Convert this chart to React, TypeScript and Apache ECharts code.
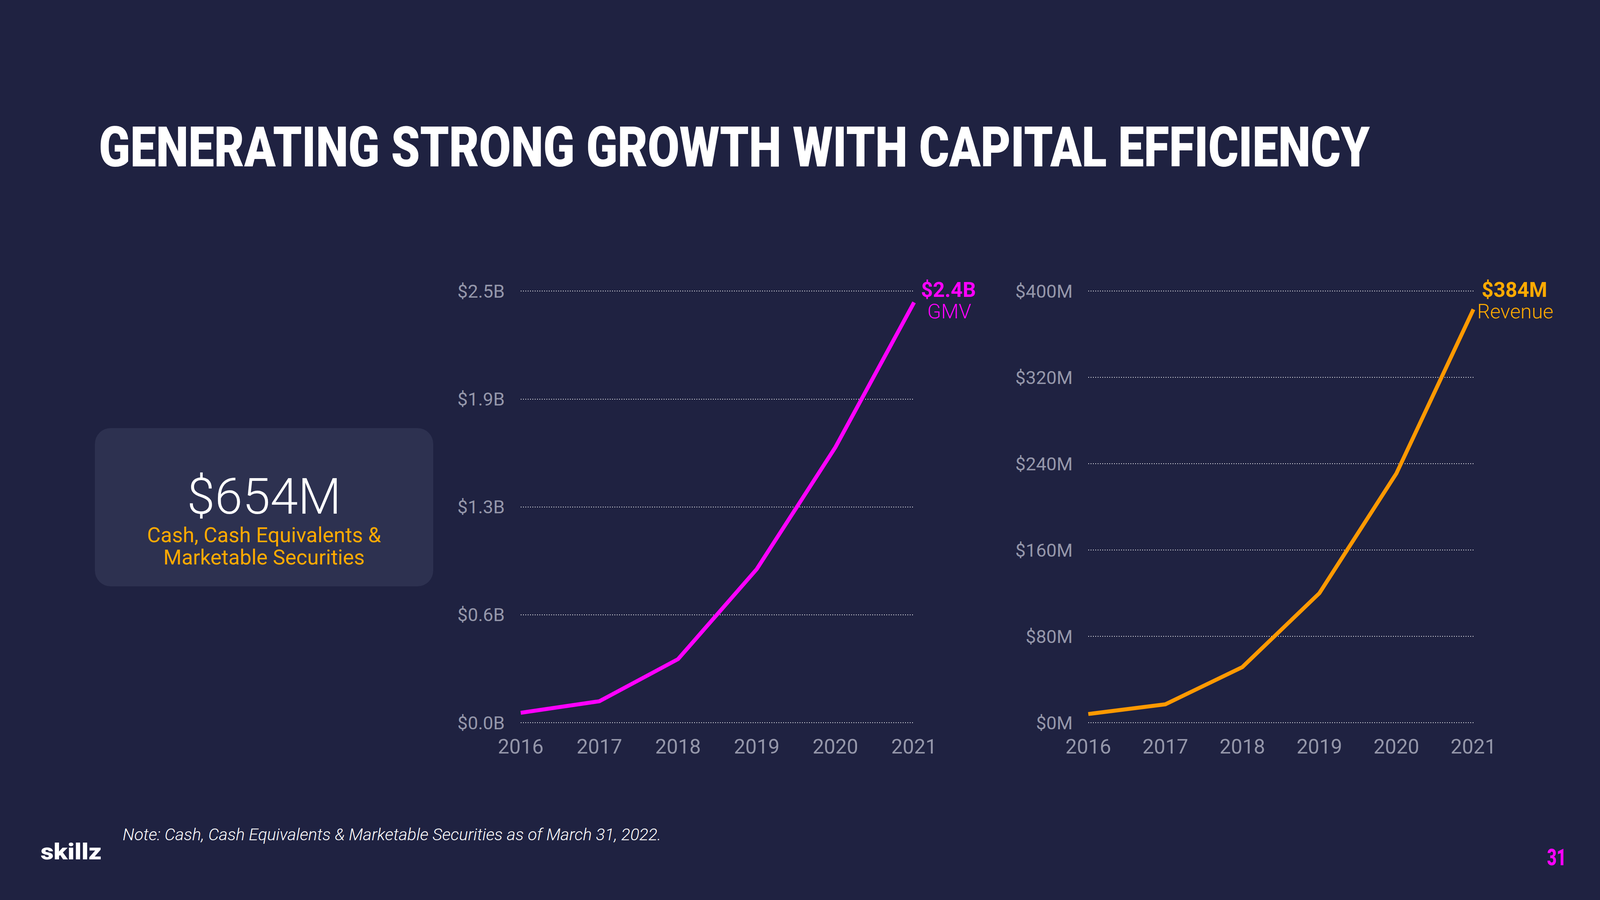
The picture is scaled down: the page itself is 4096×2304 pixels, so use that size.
import React, { useEffect, useRef } from "react";
import * as echarts from "echarts";

// ---- data ----
const years = ["2016", "2017", "2018", "2019", "2020", "2021"];
const gmvBillions = [0.057, 0.124, 0.368, 0.889, 1.595, 2.434];
const revenueMillions = [8, 17, 51.5, 120, 231, 383];
const gmvAxis = [0, 2.5, 0.625]; // min, max, interval (billions)
const revenueAxis = [0, 400, 80]; // min, max, interval (millions)

const titleText = "GENERATING STRONG GROWTH WITH CAPITAL EFFICIENCY";
const cashValue = "$654M";
const cashLines = ["Cash, Cash Equivalents &", "Marketable Securities"];
const gmvLabel = ["$2.4B", "GMV"];
const revenueLabel = ["$384M", "Revenue"];
const noteText = "Note: Cash, Cash Equivalents & Marketable Securities as of March 31, 2022.";
const logoText = "skillz";
const pageNumber = "31";

// ---- style ----
const BG = "#1f2241";
const CARD = "#2d3150";
const MAGENTA = "#ff00ff";
const ORANGE_LINE = "#ff9900";
const ORANGE_TEXT = "#ffaa00";
const AXIS_GRAY = "#9597aa";
const FONT = "Roboto";

function measure(text: string, font: string): number {
  const c = document.createElement("canvas").getContext("2d");
  if (!c) return 1;
  c.font = font;
  return c.measureText(text).width || 1;
}

export default function App() {
  const ref = useRef<HTMLDivElement>(null);

  useEffect(() => {
    if (!ref.current) return;
    const chart = echarts.init(ref.current, undefined, { renderer: "svg" });

    const titleSize = 143;
    const titleW = measure(titleText, `900 ${titleSize}px ${FONT}`);
    const titleScale = 3254 / titleW;
    const logoSize = 57;
    const logoW = measure(logoText, `900 ${logoSize}px ${FONT}`);
    const logoScale = 156 / logoW;
    const pnSize = 60;
    const pnW = measure(pageNumber, `900 ${pnSize}px ${FONT}`);
    const pnScale = 49 / pnW;

    const splitLine = {
      show: true,
      lineStyle: { color: "#ffffff", width: 2, type: [2, 4] as any, opacity: 0.95 },
    };

    const makeX = (gridIndex: number) => ({
      type: "category" as const,
      gridIndex,
      data: years,
      boundaryGap: false,
      axisLine: { show: false },
      axisTick: { show: false },
      splitLine: { show: false },
      axisLabel: {
        interval: 0,
        margin: 35,
        color: AXIS_GRAY,
        fontFamily: FONT,
        fontSize: 52,
      },
    });

    const option: any = {
      animation: false,
      backgroundColor: BG,
      grid: [
        { left: 1333, top: 745, width: 1007, height: 1105 },
        { left: 2786, top: 745, width: 986, height: 1105 },
      ],
      xAxis: [makeX(0), makeX(1)],
      yAxis: [
        {
          type: "value",
          gridIndex: 0,
          min: gmvAxis[0],
          max: gmvAxis[1],
          interval: gmvAxis[2],
          axisLine: { show: false },
          axisTick: { show: false },
          splitLine,
          axisLabel: {
            margin: 41,
            color: AXIS_GRAY,
            fontFamily: FONT,
            fontSize: 47,
            formatter: (v: number) => "$" + v.toFixed(1) + "B",
          },
        },
        {
          type: "value",
          gridIndex: 1,
          min: revenueAxis[0],
          max: revenueAxis[1],
          interval: revenueAxis[2],
          axisLine: { show: false },
          axisTick: { show: false },
          splitLine,
          axisLabel: {
            margin: 40,
            color: AXIS_GRAY,
            fontFamily: FONT,
            fontSize: 47,
            formatter: (v: number) => "$" + v + "M",
          },
        },
      ],
      series: [
        {
          type: "line",
          name: "GMV",
          xAxisIndex: 0,
          yAxisIndex: 0,
          data: gmvBillions,
          showSymbol: false,
          symbol: "none",
          lineStyle: { color: MAGENTA, width: 10, cap: "butt", join: "miter" },
          z: 5,
        },
        {
          type: "line",
          name: "Revenue",
          xAxisIndex: 1,
          yAxisIndex: 1,
          data: revenueMillions,
          showSymbol: false,
          symbol: "none",
          lineStyle: { color: ORANGE_LINE, width: 10, cap: "butt", join: "miter" },
          z: 5,
        },
      ],
      graphic: [
        {
          type: "text",
          x: 253,
          y: 377,
          scaleX: titleScale,
          style: {
            text: titleText,
            fill: "#ffffff",
            fontFamily: FONT,
            fontWeight: 900,
            fontSize: titleSize,
            align: "left",
            verticalAlign: "middle",
          },
        },
        {
          type: "rect",
          shape: { x: 243, y: 1096, width: 866, height: 405, r: 40 },
          style: { fill: CARD },
          z: -1,
        },
        {
          type: "text",
          x: 676,
          y: 1271,
          style: {
            text: cashValue,
            fill: "#ffffff",
            fontFamily: FONT,
            fontWeight: 300,
            fontSize: 128,
            align: "center",
            verticalAlign: "middle",
          },
        },
        {
          type: "text",
          x: 676,
          y: 1369,
          style: {
            text: cashLines[0],
            fill: ORANGE_TEXT,
            fontFamily: FONT,
            fontWeight: 400,
            fontSize: 53.5,
            align: "center",
            verticalAlign: "middle",
          },
        },
        {
          type: "text",
          x: 676,
          y: 1426,
          style: {
            text: cashLines[1],
            fill: ORANGE_TEXT,
            fontFamily: FONT,
            fontWeight: 400,
            fontSize: 53.5,
            align: "center",
            verticalAlign: "middle",
          },
        },
        {
          type: "text",
          x: 2428,
          y: 742,
          style: {
            text: gmvLabel[0],
            fill: MAGENTA,
            fontFamily: FONT,
            fontWeight: 700,
            fontSize: 53,
            align: "center",
            verticalAlign: "middle",
          },
        },
        {
          type: "text",
          x: 2430,
          y: 797,
          style: {
            text: gmvLabel[1],
            fill: MAGENTA,
            fontFamily: FONT,
            fontWeight: 300,
            fontSize: 52,
            align: "center",
            verticalAlign: "middle",
          },
        },
        {
          type: "text",
          x: 3877,
          y: 742,
          style: {
            text: revenueLabel[0],
            fill: ORANGE_TEXT,
            fontFamily: FONT,
            fontWeight: 700,
            fontSize: 53,
            align: "center",
            verticalAlign: "middle",
          },
        },
        {
          type: "text",
          x: 3879,
          y: 797,
          style: {
            text: revenueLabel[1],
            fill: ORANGE_TEXT,
            fontFamily: FONT,
            fontWeight: 300,
            fontSize: 52,
            align: "center",
            verticalAlign: "middle",
          },
        },
        {
          type: "text",
          x: 314,
          y: 2136,
          style: {
            text: noteText,
            fill: "#ffffff",
            fontFamily: FONT,
            fontStyle: "italic",
            fontWeight: 300,
            fontSize: 43,
            align: "left",
            verticalAlign: "middle",
          },
        },
        {
          type: "text",
          x: 104,
          y: 2180,
          scaleX: logoScale,
          style: {
            text: logoText,
            fill: "#ffffff",
            fontFamily: FONT,
            fontWeight: 900,
            fontSize: logoSize,
            align: "left",
            verticalAlign: "middle",
          },
        },
        {
          type: "text",
          x: 3985,
          y: 2195,
          scaleX: pnScale,
          style: {
            text: pageNumber,
            fill: MAGENTA,
            fontFamily: FONT,
            fontWeight: 900,
            fontSize: pnSize,
            align: "center",
            verticalAlign: "middle",
          },
        },
      ],
    };

    chart.setOption(option);
    return () => chart.dispose();
  }, []);

  return (
    <div
      ref={ref}
      style={{ position: "fixed", left: 0, top: 0, width: 4096, height: 2304, background: BG }}
    />
  );
}
